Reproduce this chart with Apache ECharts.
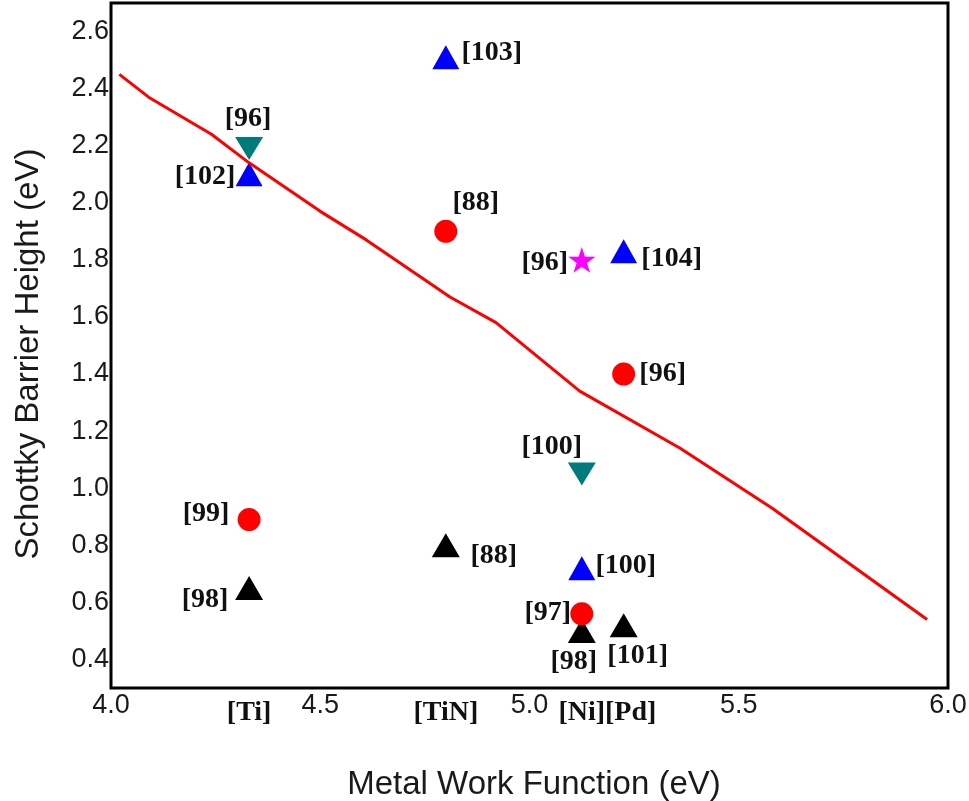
<!DOCTYPE html>
<html>
<head>
<meta charset="utf-8">
<script src="https://cdn.jsdelivr.net/npm/echarts@6/dist/echarts.min.js"></script>
<style>
  html, body { margin: 0; padding: 0; background: #fff; }
  #chart { width: 969px; height: 801px; }
</style>
</head>
<body>
<div id="chart"></div>
<script>
// Metals and their work functions (eV)
const metals = ['Ti', 'TiN', 'Ni', 'Pd'];
const workFunction = [4.33, 4.80, 5.125, 5.225];

// Axis tick labels
const xTicks = [4.0, 4.5, 5.0, 5.5, 6.0];
const yTicks = [0.4, 0.6, 0.8, 1.0, 1.2, 1.4, 1.6, 1.8, 2.0, 2.2, 2.4, 2.6];

// Reported Schottky barrier heights, grouped by marker
const blackTriMetal = ['TiN', 'Ni', 'Pd', 'Ti'];
const blackTriSBH = [0.80, 0.50, 0.52, 0.65];
const blackTriRef = ['[88]', '[98]', '[101]', '[98]'];

const tealDownMetal = ['Ti', 'Ni'];
const tealDownSBH = [2.19, 1.05];
const tealDownRef = ['[96]', '[100]'];

const blueTriMetal = ['TiN', 'Ti', 'Pd', 'Ni'];
const blueTriSBH = [2.51, 2.10, 1.83, 0.72];
const blueTriRef = ['[103]', '[102]', '[104]', '[100]'];

const starMetal = ['Ni'];
const starSBH = [1.80];
const starRef = ['[96]'];

const redDotMetal = ['TiN', 'Pd', 'Ni', 'Ti'];
const redDotSBH = [1.90, 1.40, 0.56, 0.89];
const redDotRef = ['[88]', '[96]', '[97]', '[99]'];

// Schottky-Mott trend line
const trendWF = [4.02, 4.09, 4.24, 4.33, 4.50, 4.61, 4.81, 4.92, 5.12, 5.36, 5.58, 5.95];
const trendSBH = [2.45, 2.37, 2.24, 2.14, 1.97, 1.87, 1.67, 1.58, 1.34, 1.14, 0.93, 0.54];

// Reference-label offsets from each marker centre (px)
const labelShift = {
  blackTri: [[48, 10], [-8, 31], [14, 31], [-44, 12]],
  tealDown: [[-1, -30], [-30, -27]],
  blueTri: [[46, -4], [-44, 3], [48, 7], [44, -2]],
  star: [[-37, 3]],
  redDot: [[30, -29], [39, 0], [-34, -1], [-43, -6]]
};

const wfOf = name => workFunction[metals.indexOf(name)];

function points(metalList, sbh, refs, shifts) {
  return metalList.map((m, i) => ({
    value: [wfOf(m), sbh[i]],
    ref: refs[i],
    label: { offset: shifts[i] }
  }));
}

const STAR = 'path://M50,0 L61.2,34.5 L97.6,34.5 L68.2,55.9 L79.4,90.5 L50,69.1 L20.6,90.5 L31.8,55.9 L2.4,34.5 L38.8,34.5 Z';

const refLabel = {
  show: true,
  position: 'inside',
  formatter: p => p.data.ref,
  fontFamily: 'Liberation Serif',
  fontWeight: 'bold',
  fontSize: 28,
  color: '#111',
  textBorderWidth: 0
};

function scatter(name, data, symbol, size, color, extra) {
  return Object.assign({
    name: name,
    type: 'scatter',
    data: data,
    symbol: symbol,
    symbolSize: size,
    itemStyle: { color: color, opacity: 1 },
    label: refLabel,
    emphasis: { disabled: true },
    z: 3
  }, extra || {});
}

const chart = echarts.init(document.getElementById('chart'));

chart.setOption({
  animation: false,
  backgroundColor: '#fff',
  grid: {
    left: 111, right: 21, top: 3, bottom: 113,
    outerBoundsMode: 'none',
    containLabel: false,
    show: true, borderColor: '#000', borderWidth: 3,
    backgroundColor: 'transparent'
  },
  xAxis: [
    {
      type: 'value',
      min: xTicks[0], max: xTicks[xTicks.length - 1], interval: 0.5,
      axisLine: { show: false },
      axisTick: { show: false },
      splitLine: { show: false },
      axisLabel: {
        margin: 4,
        fontFamily: 'Liberation Sans', fontSize: 27, color: '#1a1a1a',
        formatter: v => v.toFixed(1)
      },
      name: 'Metal Work Function (eV)',
      nameLocation: 'middle',
      nameGap: 80,
      nameTextStyle: {
        fontFamily: 'Liberation Sans', fontSize: 33, color: '#1a1a1a',
        padding: [0, 0, 0, 9]
      }
    },
    {
      type: 'value',
      position: 'bottom',
      min: xTicks[0], max: xTicks[xTicks.length - 1],
      axisLine: { show: false },
      axisTick: { show: false },
      splitLine: { show: false },
      axisLabel: {
        customValues: workFunction,
        margin: 11,
        fontFamily: 'Liberation Serif', fontWeight: 'bold', fontSize: 28, color: '#111',
        formatter: v => {
          const i = workFunction.findIndex(w => Math.abs(w - v) < 1e-6);
          const name = '[' + metals[i] + ']';
          return metals[i] === 'Pd' ? '{pd|' + name + '}' : name;
        },
        rich: {
          pd: {
            fontFamily: 'Liberation Serif', fontWeight: 'bold', fontSize: 28, color: '#111',
            padding: [0, 0, 0, 14]
          }
        }
      }
    }
  ],
  yAxis: {
    type: 'value',
    min: 0.3, max: 2.7,
    axisLine: { show: false },
    axisTick: { show: false },
    splitLine: { show: false },
    axisLabel: {
      customValues: yTicks,
      margin: 2,
      fontFamily: 'Liberation Sans', fontSize: 27, color: '#1a1a1a',
      formatter: v => v.toFixed(1)
    },
    name: 'Schottky Barrier Height (eV)',
    nameLocation: 'middle',
    nameGap: 66,
    nameTextStyle: {
      fontFamily: 'Liberation Sans', fontSize: 33, color: '#1a1a1a',
      padding: [0, 17, 0, 0]
    }
  },
  series: [
    scatter('black', points(blackTriMetal, blackTriSBH, blackTriRef, labelShift.blackTri),
      'triangle', [28, 24], '#000'),
    scatter('teal', points(tealDownMetal, tealDownSBH, tealDownRef, labelShift.tealDown),
      'triangle', [28, 23], '#007b7b', { symbolRotate: 180 }),
    scatter('blue', points(blueTriMetal, blueTriSBH, blueTriRef, labelShift.blueTri),
      'triangle', [27, 24], '#0000ff'),
    scatter('star', points(starMetal, starSBH, starRef, labelShift.star),
      STAR, 27, '#ff00ff', { symbolKeepAspect: true }),
    scatter('red', points(redDotMetal, redDotSBH, redDotRef, labelShift.redDot),
      'circle', 23, '#ff0000'),
    {
      name: 'trend',
      type: 'line',
      data: trendWF.map((x, i) => [x, trendSBH[i]]),
      showSymbol: false,
      symbol: 'none',
      lineStyle: { color: '#ff0000', width: 3 },
      emphasis: { disabled: true },
      z: 5
    }
  ]
});
</script>
</body>
</html>
